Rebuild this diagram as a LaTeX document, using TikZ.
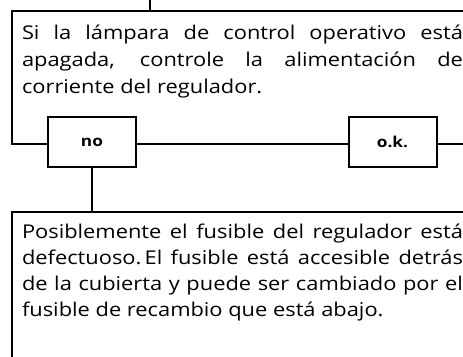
\documentclass[tikz,border=0pt]{standalone}
\usepackage{fontspec}
\setmainfont[FakeStretch=1.15]{Open Sans}
\usetikzlibrary{positioning}

\begin{document}
\begin{tikzpicture}[
    x=1pt, y=-1pt,
    line width=2pt,
    msg/.style={
        anchor=base west,
        inner sep=0pt,
        text width=441pt,
        align=justify
    },
    answer/.style={
        draw,
        fill=white,
        minimum width=88pt,
        minimum height=50pt,
        inner sep=0pt,
        font=\fontsize{15}{18}\selectfont\bfseries
    }
]
\useasboundingbox (0,0) rectangle (463,356);
\clip (0,0) rectangle (463,356);
\draw (12,11) rectangle (490,144);
\draw (12,212) rectangle (490,380);
\coordinate (from) at (150,0);
\coordinate (top) at (150,11);
\coordinate (bottom) at (93,212);
\node[msg, font=\fontsize{19}{27}\selectfont] (lamp) at (21,39) {%
    Si la lámpara de control operativo está\linebreak
    apagada, controle la alimentación de\linebreak
    corriente del regulador.};
\node[answer] (no) at (92,142) {no};
\node[answer] (ok) at (392.5,142) {o.k.};
\node[msg, font=\fontsize{19}{26}\selectfont] (fuse) at (21,238) {%
    Posiblemente el fusible del regulador está\linebreak
    defectuoso.\,El fusible está accesible detrás\linebreak
    de la cubierta y puede ser cambiado por el\linebreak
    fusible de recambio que está abajo.};
\draw (from) -- (top);
\draw (no.south) -- (no.south |- bottom);
\end{tikzpicture}
\end{document}
